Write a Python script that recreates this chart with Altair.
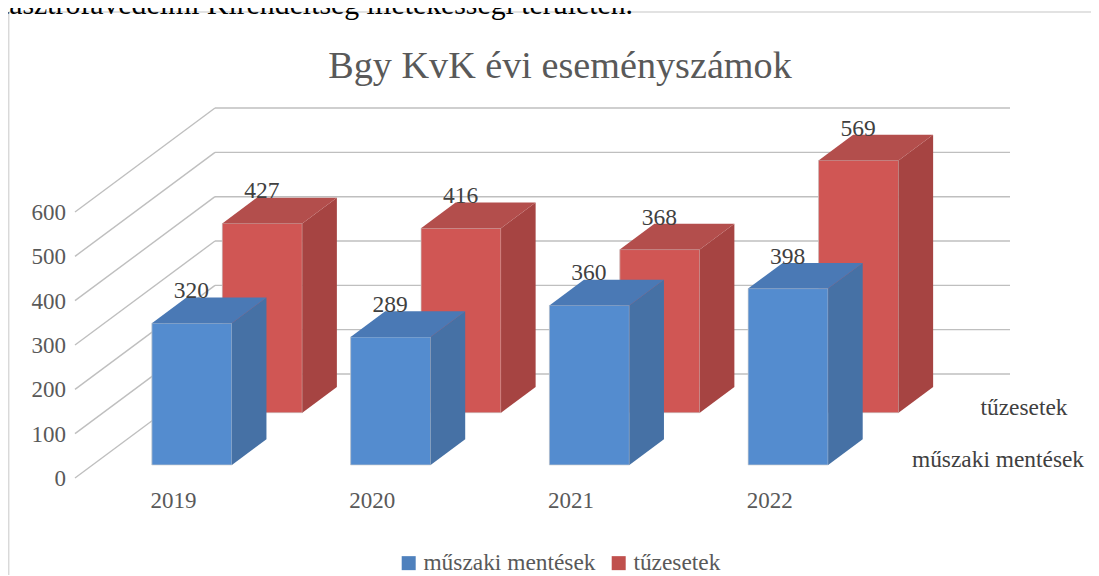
import altair as alt
import pandas as pd

years = ["2019", "2020", "2021", "2022"]
muszaki = [320, 289, 360, 398]
tuz = [427, 416, 368, 569]
ticks = [0, 100, 200, 300, 400, 500, 600]
series_names = ["műszaki mentések", "tűzesetek"]
page_header = "katasztrófavédelmi Kirendeltség illetékességi területén."
chart_title = "Bgy KvK évi eseményszámok"

W, H = 1083, 567
K = 0.4433              # px per unit of value
FLOOR = 478             # page y of value 0 on the front edge of the floor
LEFT, RIGHT = 75, 870   # page x of the front edge of the floor
DX, DY = 140, 104 / K   # depth of the box in x units and value units
BAND = (RIGHT - LEFT) / 4
BAR = 80
FONT = "Liberation Serif"
GREY, DARK, GRID = "#595959", "#404040", "#bfbfbf"

xs = alt.Scale(domain=[8, 8 + W], range=[0, W], nice=False, zero=False)
ys = alt.Scale(domain=[(FLOOR - 8 - H) / K, (FLOOR - 8) / K], range=[H, 0], nice=False, zero=False)
X = alt.X("x:Q", scale=xs, axis=None)
Y = alt.Y("y:Q", scale=ys, axis=None)


def bar_frames(values, d0, d1):
    front, side, top, labels = [], [], [], []
    for i, v in enumerate(values):
        c = LEFT + BAND * (i + 0.5)
        l, r = c - BAR / 2, c + BAR / 2
        y0, y1 = d0 * DY, d1 * DY
        fx = d0 * DX
        bx = d1 * DX
        front.append(dict(x=l + fx, x2=r + fx, y=v + y0, y2=y0))
        side.append(dict(b=i, x=r + fx, y=v + y0, y2=y0))
        side.append(dict(b=i, x=r + bx, y=v + y1, y2=y1))
        top.append(dict(b=i, y=v + y0, x=l + fx, x2=r + fx))
        top.append(dict(b=i, y=v + y1, x=l + bx, x2=r + bx))
        labels.append(dict(x=c + fx - 0.5, y=v + y0 + 72, t=str(v)))
    return tuple(pd.DataFrame(f) for f in (front, side, top, labels))


def bars(values, d0, d1, name, cols):
    front, side, top, labels = bar_frames(values, d0, d1)
    front["series"] = name
    return [
        alt.Chart(front).mark_rect().encode(
            x=X, x2="x2:Q", y=Y, y2="y2:Q",
            color=alt.Color("series:N", scale=alt.Scale(domain=series_names, range=["#4f81bd", "#c0504d"]),
                            legend=alt.Legend(orient="none", legendX=389, legendY=543, direction="horizontal",
                                              title=None, symbolType="square", symbolSize=196, symbolStrokeWidth=0,
                                              labelFont=FONT, labelFontSize=23.4, labelColor=GREY, columnPadding=11,
                                              labelOffset=3, labelLimit=0)),
        ),
        alt.Chart(front).mark_rect(fill=cols[0], stroke="#d0d0d0", strokeWidth=0.7).encode(
            x=X, x2="x2:Q", y=Y, y2="y2:Q"),
        alt.Chart(side).mark_area(color=cols[1]).encode(x=X, y=Y, y2="y2:Q", detail="b:N"),
        alt.Chart(top).mark_area(color=cols[2], orient="horizontal").encode(y=Y, x=X, x2="x2:Q", detail="b:N"),
        alt.Chart(labels).mark_text(font=FONT, fontSize=23.5, color=DARK, baseline="middle").encode(x=X, y=Y, text="t:N"),
    ]


back_wall = pd.DataFrame([dict(x=LEFT + DX, x2=RIGHT + DX, y=t + DY, y2=t + DY) for t in ticks])
side_wall = pd.DataFrame([dict(x=LEFT, x2=LEFT + DX, y=t, y2=t + DY) for t in ticks])
tick_labels = pd.DataFrame([dict(x=LEFT - 9, y=t - 2, t=str(t)) for t in ticks])
year_labels = pd.DataFrame([dict(x=LEFT + BAND * (i + 0.5) - 1, y=-23 / K, t=y) for i, y in enumerate(years)])
depth_labels = pd.DataFrame([
    dict(x=998, y=(FLOOR - 460) / K, t=series_names[0]),
    dict(x=1024, y=(FLOOR - 408) / K, t=series_names[1]),
])


def rule(df):
    return alt.Chart(df).mark_rule(color=GRID, strokeWidth=1.4).encode(x=X, x2="x2:Q", y=Y, y2="y2:Q")


def frame(x, x2, y, y2):
    return alt.Chart(pd.DataFrame({"a": [0]})).mark_rule(color="#d9d9d9", strokeWidth=1.5).encode(
        x=alt.value(x), x2=alt.value(x2), y=alt.value(y), y2=alt.value(y2))


layers = [
    frame(0.7, 0.7, 4, H),
    frame(0.7, W, 4, 4),
    rule(back_wall),
    rule(side_wall),
]
layers += bars(tuz, 0.628, 0.875, series_names[1], ["#d05654", "#a64442", "#b34e4c"])
layers += bars(muszaki, 0.125, 0.372, series_names[0], ["#548ccf", "#4671a5", "#4a79b5"])
layers += [
    alt.Chart(tick_labels).mark_text(font=FONT, fontSize=23, color=GREY, align="right", baseline="middle").encode(x=X, y=Y, text="t:N"),
    alt.Chart(year_labels).mark_text(font=FONT, fontSize=23, color=GREY, baseline="middle").encode(x=X, y=Y, text="t:N"),
    alt.Chart(depth_labels).mark_text(font=FONT, fontSize=23.4, color=DARK, baseline="middle").encode(x=X, y=Y, text="t:N"),
    alt.Chart(pd.DataFrame({"t": [chart_title]})).mark_text(font=FONT, fontSize=38.2, color=GREY, baseline="middle").encode(
        x=alt.value(552), y=alt.value(59), text="t:N"),
    alt.Chart(pd.DataFrame({"t": [page_header]})).mark_text(font=FONT, fontSize=29.8, color="#000000", align="right", baseline="alphabetic").encode(
        x=alt.value(625), y=alt.value(6), text="t:N"),
]

chart = alt.layer(*layers).properties(
    width=W, height=H, padding=0, autosize=alt.AutoSizeParams(type="none"), background="white"
).configure_view(stroke=None)

chart.save("out.html", embed_options={"renderer": "svg", "actions": False})
